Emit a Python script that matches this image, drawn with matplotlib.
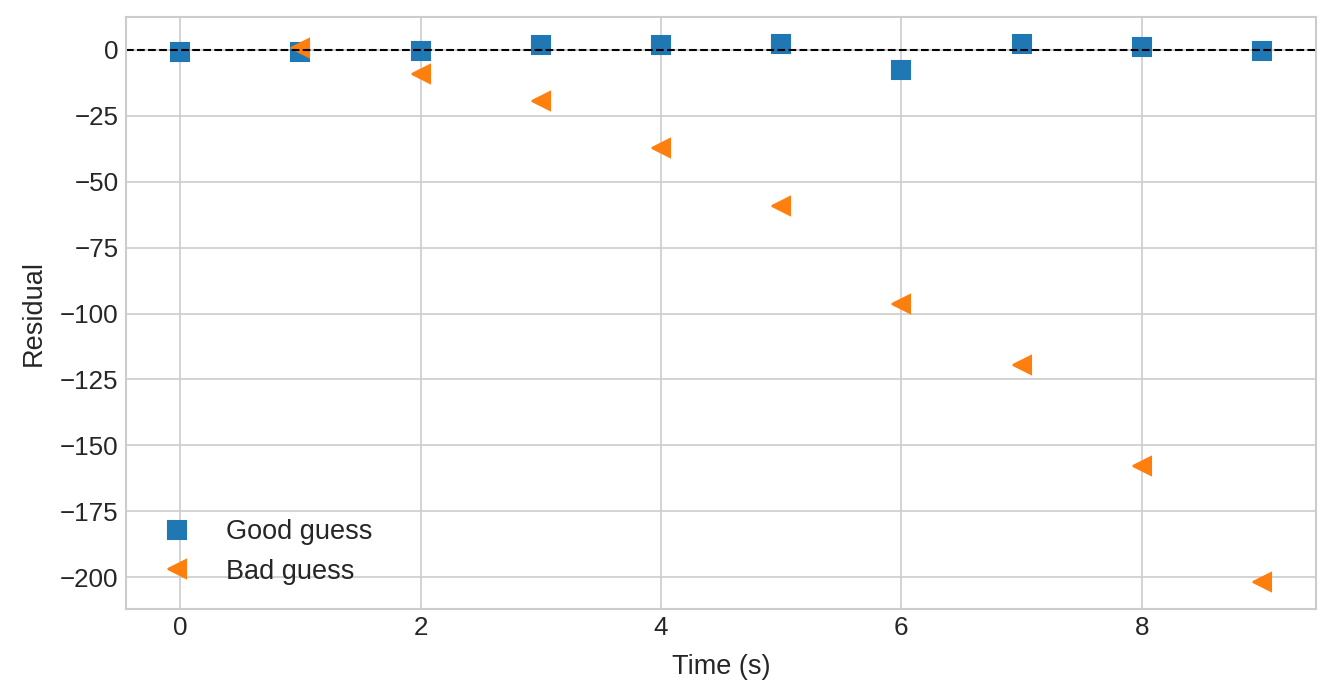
import numpy as np
import matplotlib
matplotlib.use('Agg')
import matplotlib.pyplot as plt

plt.style.use('seaborn-v0_8-whitegrid')
plt.rcParams['font.family'] = ['Liberation Sans', 'DejaVu Sans']
plt.rcParams['font.size'] = 13
plt.rcParams['xtick.labelsize'] = 12.5
plt.rcParams['ytick.labelsize'] = 12.5
plt.rcParams['axes.labelpad'] = 6.5

# residuals
t_good = [0, 1, 2, 3, 4, 5, 6, 7, 8, 9]
res_good = [-0.8, -0.8, -0.4, 1.9, 1.9, 2.3, -7.6, 2.3, 1.1, -0.4]
t_bad = [1, 2, 3, 4, 5, 6, 7, 8, 9]
res_bad = [0.8, -9.1, -19.4, -37.2, -59.2, -96.4, -119.5, -157.9, -201.9]

fig, ax = plt.subplots(figsize=(8.9, 4.6667), dpi=150)
fig.subplots_adjust(left=0.0944, right=0.9858, top=0.9757, bottom=0.13)

ax.plot(t_good, res_good, 's', markersize=8.5, label='Good guess')
ax.plot(t_bad, res_bad, '<', markersize=8.5, label='Bad guess')
ax.axhline(0, color='k', linestyle='--', linewidth=1)

ax.set_xlabel('Time (s)')
ax.set_ylabel('Residual')
ax.legend(loc='lower left')

fig.savefig('out.png', dpi=150)
